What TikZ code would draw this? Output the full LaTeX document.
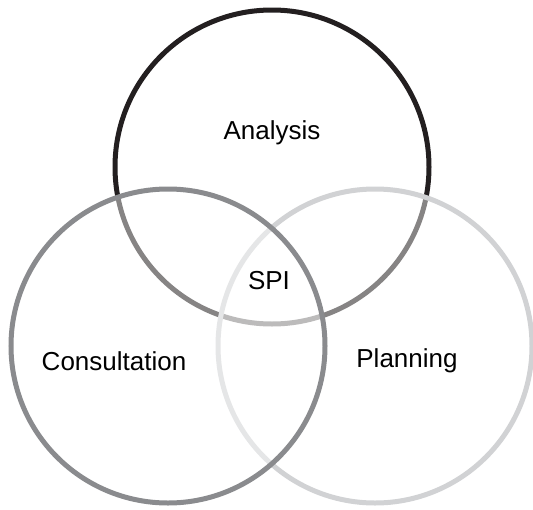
\documentclass[tikz,border=0pt]{standalone}
\usepackage{fontspec}
\setmainfont{Liberation Sans}
\definecolor{darkring}{RGB}{35,31,32}
\definecolor{midring}{RGB}{138,139,142}
\definecolor{lightring}{RGB}{209,210,212}
\tikzset{ring/.style={circle,draw,line width=5pt,fill=white,fill opacity=0.45,minimum size=314pt,inner sep=0pt},
         venntext/.style={font=\fontsize{26}{30}\selectfont}
}

\begin{document}
\begin{tikzpicture}[x=1pt,y=1pt,yscale=-1,xscale=1]
\useasboundingbox (0,0) rectangle (533,509);

%Circles, back to front (the white fills fade the rings below them)
\node[ring,draw=darkring] (analysis) at (272,167) {};
\node[ring,draw=lightring] (planning) at (375,346) {};
\node[ring,draw=midring] (consultation) at (168,346) {};

% Text Node
\node[venntext] (analysistxt) at (272,133) {Analysis};
% Text Node
\node[venntext] (spitxt) at (269,281) {SPI};
% Text Node
\node[venntext] (consultationtxt) at (114,361) {Consultation};
% Text Node
\node[venntext] (planningtxt) at (407,361) {Planning};

\end{tikzpicture}
\end{document}
